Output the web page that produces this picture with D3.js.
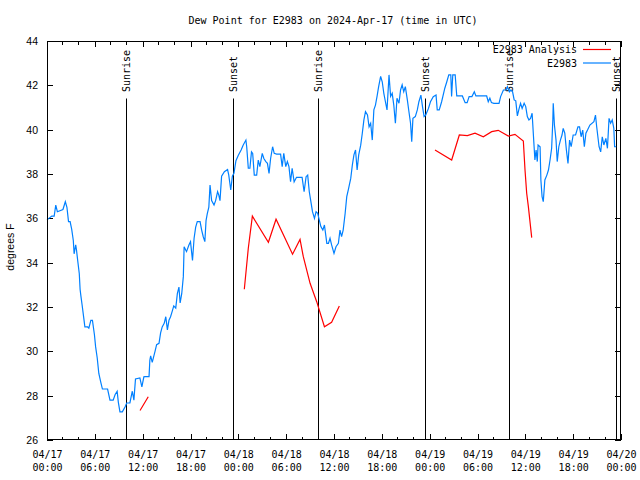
<!DOCTYPE html>
<html><head><meta charset="utf-8">
<script src="https://cdn.jsdelivr.net/npm/d3@7"></script>
<style>body{margin:0;background:#fff}svg{display:block}</style>
</head><body>
<svg id="c" width="640" height="480"></svg>
<script>
// ---------- data ----------
const chartTitle = "Dew Point for E2983 on 2024-Apr-17 (time in UTC)";
const yLabel = "degrees F";
const seriesNames = ["E2983 Analysis", "E2983"];
const yTickValues = [26, 28, 30, 32, 34, 36, 38, 40, 42, 44];
const startUTC = Date.UTC(2024, 3, 17, 0, 0);   // 04/17 00:00 UTC
const spanHours = 72;

// observations: hours since 04/17 00:00 UTC, degrees F
const obsHours = [0.0,0.6,0.9,1.1,1.3,2.0,2.3,2.5,2.7,2.9,3.1,3.3,3.4,3.6,3.7,3.85,4.05,4.15,4.25,4.4,4.65,4.75,5.1,5.25,5.5,5.7,5.95,6.1,6.3,6.5,6.75,6.95,7.6,7.9,8.3,8.55,8.8,8.95,9.15,9.45,9.8,10.0,10.4,10.7,10.9,11.1,11.65,11.9,12.15,
12.3,12.8,12.9,13.0,13.2,13.55,13.75,14.05,14.25,14.45,14.7,14.9,15.1,15.3,15.5,15.75,15.9,16.15,16.35,16.55,16.7,16.9,17.1,17.2,17.4,17.5,17.8,18.0,18.25,18.45,18.65,18.85,19.2,19.4,19.6,19.8,19.95,20.1,20.3,20.45,20.65,20.95,21.15,21.4,21.55,21.7,21.9,22.25,22.65,22.8,23.05,23.25,23.45,23.7,24.0,24.35,24.6,24.95,25.05,25.25,25.45,25.65,25.8,26.0,26.3,26.5,26.7,27.0,27.2,27.45,27.65,27.85,28.05,28.3,28.5,28.8,29.3,29.5,29.7,29.95,30.15,30.35,30.55,30.75,31.0,31.3,32.0,32.25,32.5,32.7,32.9,33.1,33.3,33.55,33.75,33.95,34.15,34.35,34.6,34.8,35.1,35.3,35.5,35.7,36.0,36.25,36.55,36.75,36.95,37.15,37.4,37.6,37.8,38.1,38.3,38.5,38.7,38.9,39.1,39.35,39.55,39.75,39.95,40.2,40.4,40.6,40.8,41.0,41.2,41.4,41.6,41.85,42.05,42.25,42.45,42.65,42.9,43.1,43.3,43.5,43.7,43.9,44.15,44.35,44.55,44.75,44.95,45.2,45.4,45.6,45.75,45.9,46.2,46.45,46.65,46.9,47.1,47.3,47.5,47.85,48.1,48.45,48.8,48.95,49.2,49.5,49.9,50.15,50.4,50.65,50.75,50.9,51.2,51.4,52.1,52.45,52.7,52.95,53.3,53.6,53.8,55.15,55.35,55.55,55.75,56.05,56.7,56.9,57.25,57.6,57.75,58.0,58.2,58.4,58.6,58.8,59.0,59.2,59.4,59.6,59.85,60.05,60.25,60.45,60.65,60.85,61.1,61.2,61.35,61.5,61.6,61.85,61.95,62.1,62.25,62.45,62.7,62.9,63.1,63.3,63.45,63.5,63.65,63.85,64.0,64.2,64.4,64.6,64.75,64.95,65.15,65.35,65.55,65.75,66.0,66.3,66.6,66.8,67.0,67.2,67.4,67.6,67.8,68.1,68.6,68.8,68.95,69.25,69.45,69.65,69.85,70.1,70.3,70.5,70.7,70.9,71.1,71.2,71.4];
const obsValues = [35.93,36.1,36.1,36.6,36.3,36.4,36.75,36.5,35.85,35.85,35.5,35.0,34.4,34.8,34.57,34.1,33.5,32.8,32.5,32.1,31.4,31.1,31.1,31.05,31.4,31.4,30.75,30.2,29.7,29.0,28.6,28.3,28.3,27.8,27.8,28.05,28.2,27.7,27.27,27.27,27.5,27.67,27.67,28.2,27.8,28.75,28.8,28.4,28.85,
28.86,28.86,29.6,29.8,29.5,30.0,30.3,30.36,30.83,31.1,31.26,31.56,30.97,31.4,31.56,31.86,32.05,31.95,32.6,32.9,32.18,32.6,33.37,34.72,34.57,34.5,34.8,34.95,34.1,35.1,35.6,35.85,35.85,35.47,35.17,34.95,35.9,36.2,36.5,37.5,36.8,36.6,36.8,37.2,37.05,36.8,37.9,38.1,38.2,37.95,37.28,37.9,38.03,38.6,38.85,39.08,39.3,39.53,39.23,38.26,38.26,39.0,38.93,37.95,37.95,38.63,38.33,38.93,38.7,38.56,38.48,38.03,38.7,39.23,38.93,38.9,38.9,38.33,38.93,38.33,38.56,38.33,37.65,38.26,37.65,37.85,37.85,37.2,37.88,37.95,37.2,36.75,36.3,36.0,36.3,36.23,35.93,35.63,35.47,35.7,34.87,34.87,35.1,34.8,34.42,34.72,34.87,35.47,35.17,35.47,36.23,36.98,37.3,37.8,38.4,38.86,39.08,38.18,38.86,39.3,39.84,40.44,40.81,40.66,40.13,40.29,39.53,40.89,41.11,41.5,41.94,42.4,42.16,41.64,41.26,40.89,42.47,41.5,41.64,41.11,40.29,41.42,41.19,41.79,42.02,41.71,41.94,41.34,40.81,40.29,39.46,40.51,40.59,40.89,41.26,41.56,41.04,40.59,40.66,40.96,41.26,41.49,41.56,40.89,40.89,41.26,41.87,42.16,42.47,42.47,41.5,42.47,42.47,41.52,41.52,41.22,41.22,41.49,41.49,41.71,41.52,41.52,41.26,41.42,41.22,41.19,41.19,41.49,41.79,41.79,41.94,41.71,41.79,41.71,41.34,41.3,40.62,40.93,41.19,40.96,41.19,41.04,40.59,40.44,40.51,40.74,39.23,38.63,39.08,38.56,39.31,39.23,37.73,36.98,36.75,37.73,37.95,38.18,38.63,39.16,40.44,41.19,40.21,39.53,38.56,39.23,39.53,39.76,40.06,39.84,39.08,38.48,39.53,39.23,39.76,39.76,40.13,40.13,39.68,39.98,39.23,39.84,39.98,40.21,40.36,40.66,40.13,39.23,39.0,39.68,39.31,39.61,39.16,40.51,40.29,40.44,40.06,39.23,39.23];

// analysis: hours since 04/17 00:00 UTC, degrees F (null = gap)
const anaHours = [11.67,12.7,18,24.75,25.25,25.76,27.77,28.73,30.8,31.74,32.15,33.0,33.83,34.8,35.7,36.67,42,48.67,50.76,51.72,52.73,53.69,54.73,55.78,56.6,57.87,58.7,59.75,59.96,60.17,60.38,60.8];
const anaValues = [27.33,27.95,null,32.8,34.65,36.1,34.92,35.96,34.38,35.05,34.27,33.07,32.24,31.11,31.31,32.05,null,39.08,38.63,39.76,39.73,39.84,39.68,39.91,39.97,39.71,39.79,39.49,38.18,37.13,36.53,35.13];

// sun events
const eventNames = ["Sunrise","Sunset","Sunrise","Sunset","Sunrise","Sunset"];
const eventHours = [9.97, 23.38, 33.95, 47.40, 57.93, 71.42];

// ---------- drawing ----------
const HOUR = 3600e3;
const svg = d3.select("#c");
const L = 47, R = 621, T = 41, B = 440;
const mono = "'DejaVu Sans Mono', monospace";
const sans = "'Liberation Sans', Arial, sans-serif";

const x = d3.scaleUtc().domain([new Date(startUTC), new Date(startUTC + spanHours*HOUR)]).range([L, R]);
const y = d3.scaleLinear().domain([26, 44]).range([B, T]);
const t = h => new Date(startUTC + h*HOUR);

// title
svg.append("text").attr("x", 333).attr("y", 23.5).attr("text-anchor","middle")
  .style("font-family", mono).style("font-size","10px").text(chartTitle);

// y label
svg.append("text").attr("transform","translate(14,247) rotate(-90)").attr("text-anchor","middle")
  .style("font-family", sans).style("font-size","10.5px").text(yLabel);

// x axis (bottom) - major ticks with labels, inward
const majorX = x.ticks(d3.utcHour.every(6));
const minorX = x.ticks(d3.utcHour.every(2));
const fmtD = d3.utcFormat("%m/%d"), fmtH = d3.utcFormat("%H:%M");

const axB = d3.axisBottom(x).tickValues(majorX).tickSize(-6).tickFormat("");
const gB = svg.append("g").attr("transform",`translate(0,${B})`).call(axB);
gB.select(".domain").remove();
gB.selectAll(".tick line").attr("stroke","#000").attr("shape-rendering","crispEdges");
gB.selectAll(".tick").each(function(d){
  const s = d3.select(this);
  s.select("text").remove();
  const tx = s.append("text").attr("text-anchor","middle").attr("fill","#000")
     .style("font-family", mono).style("font-size","10px");
  tx.append("tspan").attr("x",0).attr("y",17.5).text(fmtD(d));
  tx.append("tspan").attr("x",0).attr("y",31).text(fmtH(d));
});
const axT = d3.axisTop(x).tickValues(majorX).tickSize(-6).tickFormat("");
const gT = svg.append("g").attr("transform",`translate(0,${T})`).call(axT);
gT.select(".domain").remove();
gT.selectAll(".tick line").attr("stroke","#000").attr("shape-rendering","crispEdges");

// minor x ticks
const minorOnly = minorX.filter(d => d.getUTCHours() % 6 !== 0);
svg.append("g").selectAll("line").data(minorOnly).join("line")
  .attr("x1", d=>x(d)).attr("x2", d=>x(d)).attr("y1", B).attr("y2", B-3.5)
  .attr("stroke","#000").attr("shape-rendering","crispEdges");
svg.append("g").selectAll("line").data(minorOnly).join("line")
  .attr("x1", d=>x(d)).attr("x2", d=>x(d)).attr("y1", T).attr("y2", T+3.5)
  .attr("stroke","#000").attr("shape-rendering","crispEdges");

// y axis left / right
const axL = d3.axisLeft(y).tickValues(yTickValues).tickSize(-6).tickPadding(9).tickFormat(d3.format("d"));
const gL = svg.append("g").attr("transform",`translate(${L},0)`).call(axL);
gL.select(".domain").remove();
gL.selectAll(".tick line").attr("stroke","#000").attr("shape-rendering","crispEdges");
gL.selectAll(".tick text").attr("fill","#000").style("font-family", sans).style("font-size","10.5px");
const axR = d3.axisRight(y).tickValues(yTickValues).tickSize(-6).tickFormat("");
const gR = svg.append("g").attr("transform",`translate(${R},0)`).call(axR);
gR.select(".domain").remove();
gR.selectAll(".tick line").attr("stroke","#000").attr("shape-rendering","crispEdges");

// event lines
const ev = svg.append("g");
eventHours.forEach((h,i) => {
  const xx = Math.round(x(t(h))) + 0.5;
  ev.append("line").attr("x1",xx).attr("x2",xx).attr("y1",98.5).attr("y2",B)
    .attr("stroke","#000").attr("stroke-width",1);
  ev.append("text").attr("transform",`translate(${xx},92) rotate(-90)`)
    .attr("dy","0.35em").attr("text-anchor","start")
    .style("font-family", mono).style("font-size","10px").text(eventNames[i]);
});

// lines
const obsData = obsHours.map((h,i)=>({t:t(h), v:obsValues[i]}));
const anaData = anaHours.map((h,i)=>({t:t(h), v:anaValues[i]}));
const line = d3.line().defined(d=>d.v!==null).x(d=>x(d.t)).y(d=>y(d.v));

svg.append("path").datum(anaData).attr("d", line).attr("fill","none")
  .attr("stroke","#ff0000").attr("stroke-width",1.2);
svg.append("path").datum(obsData).attr("d", line).attr("fill","none")
  .attr("stroke","#0080ff").attr("stroke-width",1.2);

// border
svg.append("rect").attr("x",L+0.5).attr("y",T+0.5).attr("width",R-L-1).attr("height",B-T-1)
  .attr("fill","none").attr("stroke","#000").attr("shape-rendering","crispEdges");

// legend
const legColors = ["#ff0000","#0080ff"];
seriesNames.forEach((n,i)=>{
  const ly = 49.5 + i*13.5;
  svg.append("text").attr("x",577).attr("y",ly+3.5).attr("text-anchor","end")
    .style("font-family", mono).style("font-size","10px").text(n);
  svg.append("line").attr("x1",583).attr("x2",611).attr("y1",ly).attr("y2",ly)
    .attr("stroke",legColors[i]).attr("stroke-width",1.2);
});
</script>
</body></html>
